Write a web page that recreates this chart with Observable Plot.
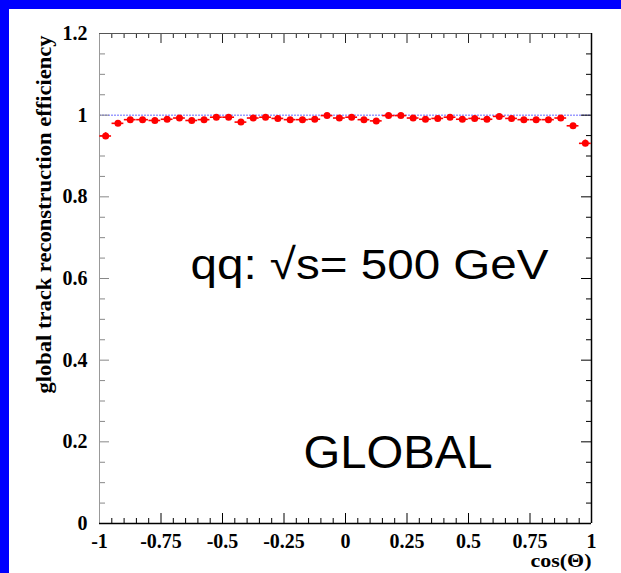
<!DOCTYPE html>
<html><head><meta charset="utf-8">
<script src="https://cdn.jsdelivr.net/npm/d3@7"></script>
<script src="https://cdn.jsdelivr.net/npm/@observablehq/plot@0.6"></script>
<style>
html,body{margin:0;padding:0;background:#fff;}
#chart{border-top:9px solid #0000ff;border-left:9px solid #0000ff;width:612px;height:564px;background:#fff;}
svg{display:block}
</style></head><body><div id="chart"></div>
<script>
const cosTheta = [-0.975,-0.925,-0.875,-0.825,-0.775,-0.725,-0.675,-0.625,-0.575,-0.525,
  -0.475,-0.425,-0.375,-0.325,-0.275,-0.225,-0.175,-0.125,-0.075,-0.025,
  0.025,0.075,0.125,0.175,0.225,0.275,0.325,0.375,0.425,0.475,
  0.525,0.575,0.625,0.675,0.725,0.775,0.825,0.875,0.925,0.975];
const efficiency = [0.949,0.980,0.989,0.989,0.987,0.990,0.993,0.987,0.989,0.995,
  0.995,0.983,0.993,0.995,0.992,0.989,0.989,0.990,0.999,0.993,
  0.995,0.989,0.986,0.999,0.999,0.993,0.990,0.992,0.995,0.990,
  0.992,0.990,0.997,0.992,0.989,0.989,0.989,0.993,0.974,0.931];
const effError = [0.008,0.005,0.004,0.004,0.004,0.004,0.004,0.004,0.004,0.004,
  0.004,0.004,0.004,0.004,0.004,0.004,0.004,0.004,0.004,0.004,
  0.004,0.004,0.004,0.004,0.004,0.004,0.004,0.004,0.004,0.004,
  0.004,0.004,0.004,0.004,0.004,0.004,0.004,0.004,0.005,0.008];
const xTicks = [-1,-0.75,-0.5,-0.25,0,0.25,0.5,0.75,1];
const xMinorTicks = [-0.95,-0.9,-0.85,-0.8,-0.7,-0.65,-0.6,-0.55,-0.45,-0.4,-0.35,-0.3,
  -0.2,-0.15,-0.1,-0.05,0.05,0.1,0.15,0.2,0.3,0.35,0.4,0.45,0.55,0.6,0.65,0.7,0.8,0.85,0.9,0.95];
const yTicks = [0,0.2,0.4,0.6,0.8,1,1.2];
const yMinorTicks = [0.05,0.1,0.15,0.25,0.3,0.35,0.45,0.5,0.55,0.65,0.7,0.75,0.85,0.9,0.95,1.05,1.1,1.15];
const referenceLevel = [1];
const xLabel = "cos(Θ)";
const yLabel = "global track reconstruction efficiency";
const annotations = [
  {text: "qq: √s= 500 GeV", x: -0.63, y: 0.6, size: 43},
  {text: "GLOBAL", x: -0.171, y: 0.137, size: 47}
];
const binHalfWidth = 0.024;

const data = cosTheta.map((x, i) => ({x, y: efficiency[i], e: effError[i]}));

const W = 612, H = 564, mL = 90, mR = 30, mT = 24, mB = 50;
const FW = W - mL - mR, FH = H - mT - mB;
const serif = "'Liberation Serif', 'Times New Roman', serif";
const sans = "'Liberation Sans', Arial, sans-serif";
const fmt = d => String(d);

const chart = Plot.plot({
  width: W, height: H,
  marginLeft: mL, marginRight: mR, marginTop: mT, marginBottom: mB,
  style: {fontFamily: serif, fontWeight: "bold", fontSize: "20px", background: "white", color: "black"},
  x: {domain: [-1, 1]},
  y: {domain: [0, 1.2]},
  marks: [
    Plot.ruleY(referenceLevel, {stroke: "#6a6aff", strokeWidth: 1, strokeDasharray: "2,1"}),
    Plot.tickX(xTicks, {x: d => d, insetTop: FH - 10, stroke: "black"}),
    Plot.tickX(xMinorTicks, {x: d => d, insetTop: FH - 5, stroke: "black"}),
    Plot.tickX(xTicks, {x: d => d, insetBottom: FH - 10, stroke: "#222"}),
    Plot.tickX(xMinorTicks, {x: d => d, insetBottom: FH - 5, stroke: "#222"}),
    Plot.tickY(yTicks, {y: d => d, insetRight: FW - 10, stroke: "#888"}),
    Plot.tickY(yMinorTicks, {y: d => d, insetRight: FW - 6, stroke: "#888"}),
    Plot.tickY(yTicks, {y: d => d, insetLeft: FW - 10, stroke: "black"}),
    Plot.tickY(yMinorTicks, {y: d => d, insetLeft: FW - 5, stroke: "black"}),
    Plot.ruleX([-1], {stroke: "#999", strokeWidth: 1}),
    Plot.ruleX([1], {stroke: "black", strokeWidth: 1.5}),
    Plot.ruleY([1.2], {stroke: "#555", strokeWidth: 1}),
    Plot.ruleY([0], {stroke: "black", strokeWidth: 1.5}),
    Plot.ruleY(data, {y: "y", x1: d => d.x - binHalfWidth, x2: d => d.x + binHalfWidth, stroke: "red", strokeWidth: 1.6}),
    Plot.ruleX(data, {x: "x", y1: d => d.y - d.e, y2: d => d.y + d.e, stroke: "red", strokeWidth: 1.6}),
    Plot.dot(data, {x: "x", y: "y", r: 3.5, fill: "red", stroke: "none"}),
    Plot.axisX(xTicks, {tickSize: 0, tickPadding: 10, tickFormat: fmt, label: null, fontSize: 20, fontWeight: "bold", fontFamily: serif}),
    Plot.axisY(yTicks, {tickSize: 0, tickPadding: 12, tickFormat: fmt, label: null, fontSize: 20, fontWeight: "bold", fontFamily: serif}),
    Plot.text([xLabel], {frameAnchor: "bottom-right", textAnchor: "end", lineAnchor: "bottom", dy: 43, fontSize: 19, fontWeight: "bold", fontFamily: serif}),
    Plot.text([yLabel], {frameAnchor: "top-left", rotate: -90, textAnchor: "end", lineAnchor: "middle", dx: -55, dy: 2, fontSize: 20, fontWeight: "bold", fontFamily: serif}),
    Plot.text(annotations, {x: "x", y: "y", text: "text", textAnchor: "start", lineAnchor: "bottom", fontSize: d => d.size, fontWeight: "normal", fontFamily: sans})
  ]
});

document.getElementById("chart").appendChild(chart);

const lengths = {"qq: √s= 500 GeV": 358, "GLOBAL": 189, "global track reconstruction efficiency": 358, "cos(Θ)": 61};
chart.querySelectorAll("text").forEach(t => {
  const L = lengths[t.textContent];
  if (L) { t.setAttribute("textLength", L); t.setAttribute("lengthAdjust", "spacingAndGlyphs"); }
});
</script>
</body></html>
